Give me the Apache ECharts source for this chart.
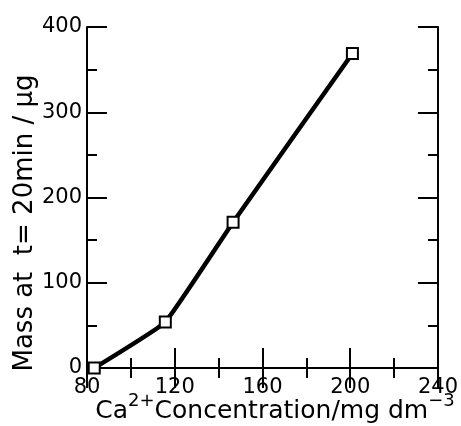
<!DOCTYPE html>
<html><head><meta charset="utf-8">
<script src="https://cdn.jsdelivr.net/npm/echarts@6/dist/echarts.min.js"></script>
<style>html,body{margin:0;padding:0;background:#fff}#c{width:461px;height:426px}</style>
</head><body><div id="c"></div>
<script>
var concentration = [83.3, 115.7, 146.6, 201.0];
var mass = [0, 54, 171, 369];
var xTicks = [80, 120, 160, 200, 240];
var yTicks = [0, 100, 200, 300, 400];

var FONT = '"DejaVu Sans", sans-serif';
var chart = echarts.init(document.getElementById('c'), null, {renderer: 'canvas'});
var lineStyle = {color: '#000', width: 2};
function axisCommon(show) {
  return {
    axisLine: {show: true, lineStyle: lineStyle},
    axisTick: {show: true, inside: true, length: 20, lineStyle: lineStyle},
    minorTick: {show: true, splitNumber: 2, length: 10, lineStyle: lineStyle},
    splitLine: {show: false},
    axisLabel: {show: show, color: '#000', fontFamily: FONT, fontSize: 21}
  };
}
var xb = Object.assign({type: 'value', position: 'bottom', min: xTicks[0], max: xTicks[xTicks.length-1], interval: 40}, axisCommon(true));
xb.axisLabel.margin = 9;
var xt = Object.assign({type: 'value', position: 'top', min: xTicks[0], max: xTicks[xTicks.length-1], interval: 40}, axisCommon(false));
var yl = Object.assign({type: 'value', position: 'left', min: yTicks[0], max: yTicks[yTicks.length-1], interval: 100}, axisCommon(true));
yl.axisLabel.margin = 5;
var yr = Object.assign({type: 'value', position: 'right', min: yTicks[0], max: yTicks[yTicks.length-1], interval: 100}, axisCommon(false));

chart.setOption({
  animation: false,
  grid: {left: 87, right: 20, top: 27, bottom: 58},
  xAxis: [xb, xt],
  yAxis: [yl, yr],
  graphic: [
    {type: 'text', x: 275, y: 411,
     style: {
       text: 'Ca{s|2+}Concentration/mg dm{s|−3}',
       rich: {s: {fontSize: 18, fontFamily: FONT, fill: '#000', verticalAlign: 'top', padding: [0,0,20,0]}},
       font: '25px ' + FONT, fill: '#000', align: 'center', verticalAlign: 'middle'
     }},
    {type: 'text', x: 25, y: 223, rotation: Math.PI/2,
     style: {
       text: 'Mass at  t= 20min / μg',
       font: '26px ' + FONT, fill: '#000', align: 'center', verticalAlign: 'middle'
     }}
  ],
  series: [{
    type: 'line',
    xAxisIndex: 0, yAxisIndex: 0,
    data: concentration.map(function(c, i){ return [c, mass[i]]; }),
    smooth: 0.1,
    symbol: 'rect', symbolSize: 11,
    itemStyle: {color: '#fff', borderColor: '#000', borderWidth: 2},
    lineStyle: {color: '#000', width: 4.5},
    z: 3
  }]
});
</script></body></html>
